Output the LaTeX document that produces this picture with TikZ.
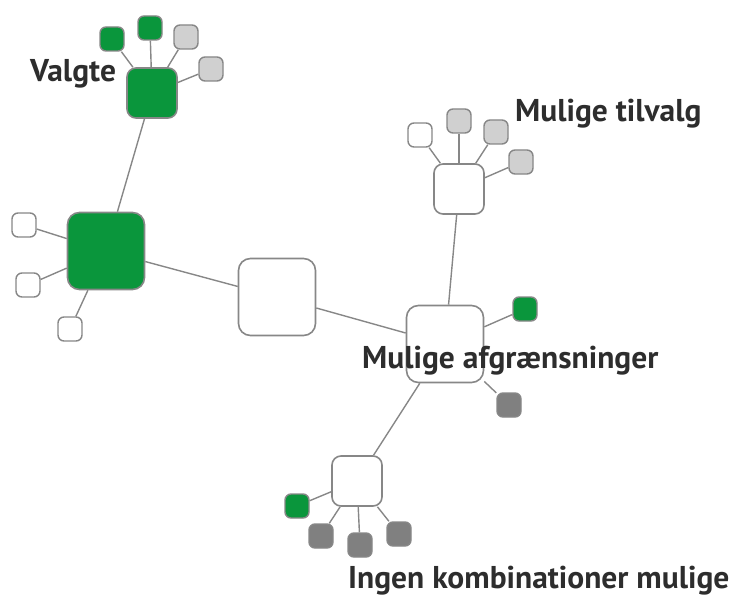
\documentclass[tikz,border=0pt]{standalone}
\usepackage{fontspec}
\setmainfont{PT Sans}
\definecolor{valgt}{RGB}{10,150,60}
\definecolor{lysgraa}{RGB}{208,208,208}
\definecolor{moerkgraa}{RGB}{128,128,128}
\definecolor{kant}{RGB}{135,135,135}
\definecolor{tekst}{RGB}{45,45,45}
\begin{document}
\begin{tikzpicture}[x=1pt,y=-1pt,
	stor/.style={draw=kant,line width=1.6pt,fill=white,rounded corners=12pt,minimum size=77pt,inner sep=0pt},
	mellem/.style={draw=kant,line width=1.6pt,fill=white,rounded corners=9pt,minimum size=50pt,inner sep=0pt},
	blad/.style={draw=kant,line width=1.4pt,fill=white,rounded corners=6pt,minimum size=24pt,inner sep=0pt},
	etiket/.style={inner sep=0pt,anchor=base west,text=tekst,font=\bfseries\fontsize{31.5}{33}\selectfont},
	kobling/.style={draw=kant,line width=1.4pt}]

				\useasboundingbox (0,0) rectangle (735,596);

				% knuder
				\node[mellem,fill=valgt] (valgte) at (152,93) {};
				\node[stor,fill=valgt] (start) at (106,251) {};
				\node[stor] (midt) at (277,297) {};
				\node[stor] (afgr) at (445,344) {};
				\node[mellem] (tilvalg) at (459,189) {};
				\node[mellem] (ingen) at (357,481) {};

				% blade
				\node[blad,fill=valgt] (v-1) at (112,39) {};
				\node[blad,fill=valgt] (v-2) at (150,28) {};
				\node[blad,fill=lysgraa] (v-3) at (186,37) {};
				\node[blad,fill=lysgraa] (v-4) at (211,69) {};

				\node[blad] (s-1) at (24,225) {};
				\node[blad] (s-2) at (28,285) {};
				\node[blad] (s-3) at (70,329) {};

				\node[blad] (t-1) at (420,135) {};
				\node[blad,fill=lysgraa] (t-2) at (459,121) {};
				\node[blad,fill=lysgraa] (t-3) at (496,132) {};
				\node[blad,fill=lysgraa] (t-4) at (521,162) {};

				\node[blad,fill=valgt] (a-1) at (525,309) {};
				\node[blad,fill=moerkgraa] (a-2) at (509,405) {};

				\node[blad,fill=valgt] (i-1) at (297,506) {};
				\node[blad,fill=moerkgraa] (i-2) at (321,536) {};
				\node[blad,fill=moerkgraa] (i-3) at (360,545) {};
				\node[blad,fill=moerkgraa] (i-4) at (399,534) {};

				% forbindelser
				\draw[kobling] (valgte) -- (start);
				\draw[kobling] (start) -- (midt);
				\draw[kobling] (midt) -- (afgr);
				\draw[kobling] (afgr) -- (tilvalg);
				\draw[kobling] (afgr) -- (ingen);

				\draw[kobling] (valgte) -- (v-1);
				\draw[kobling] (valgte) -- (v-2);
				\draw[kobling] (valgte) -- (v-3);
				\draw[kobling] (valgte) -- (v-4);
				\draw[kobling] (start) -- (s-1);
				\draw[kobling] (start) -- (s-2);
				\draw[kobling] (start) -- (s-3);
				\draw[kobling] (tilvalg) -- (t-1);
				\draw[kobling] (tilvalg) -- (t-2);
				\draw[kobling] (tilvalg) -- (t-3);
				\draw[kobling] (tilvalg) -- (t-4);
				\draw[kobling] (afgr) -- (a-1);
				\draw[kobling] (afgr) -- (a-2);
				\draw[kobling] (ingen) -- (i-1);
				\draw[kobling] (ingen) -- (i-2);
				\draw[kobling] (ingen) -- (i-3);
				\draw[kobling] (ingen) -- (i-4);

				% tekster
				\node[etiket] (valgte-tekst) at (30,82) {Valgte};
				\node[etiket] (tilvalg-tekst) at (515,122) {Mulige tilvalg};
				\node[etiket] (afgr-tekst) at (362,368) {Mulige afgrænsninger};
				\node[etiket] (ingen-tekst) at (348,588) {Ingen kombinationer mulige};

			\end{tikzpicture}
\end{document}
